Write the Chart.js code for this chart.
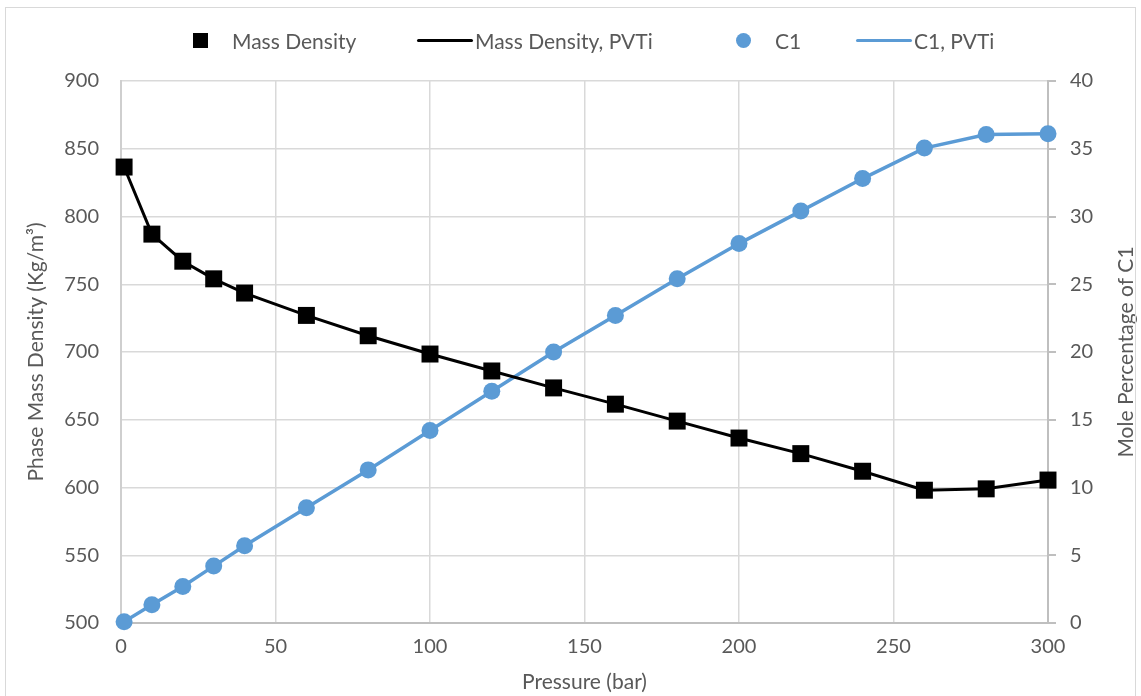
<!DOCTYPE html>
<html lang="en">
<head>
    <meta charset="UTF-8">
    <title>Phase Mass Density and C1</title>
    <script src="https://cdn.jsdelivr.net/npm/chart.js"></script>
    <style>
        body { margin: 0; background: #fff; font-family: Lato, sans-serif; }
        #wrap { position: relative; width: 1141px; height: 696px; }
        #frame { position: absolute; left: 5px; top: 7px; width: 1131px; height: 700px; border: 1px solid #d9d9d9; box-sizing: border-box; pointer-events: none; }
        .lg { position: absolute; top: 29px; height: 24px; line-height: 24px; font-size: 21px; color: #595959; white-space: nowrap; }
        .sq { position: absolute; top: 33px; width: 15px; height: 15px; background: #000; }
        .dot { position: absolute; top: 33px; width: 15px; height: 15px; border-radius: 50%; background: #5b9bd5; }
        .ln { position: absolute; top: 39px; height: 3px; border-radius: 2px; }
    </style>
</head>
<body>
    <div id="wrap">
        <canvas id="chart" width="1141" height="696"></canvas>
        <div id="frame"></div>
        <div class="sq" style="left:193px"></div>
        <div class="lg" style="left:232px">Mass Density</div>
        <div class="ln" style="left:417px;width:56px;background:#000"></div>
        <div class="lg" style="left:475px">Mass Density, PVTi</div>
        <div class="dot" style="left:736px"></div>
        <div class="lg" style="left:775px">C1</div>
        <div class="ln" style="left:856px;width:56px;background:#5b9bd5"></div>
        <div class="lg" style="left:914px">C1, PVTi</div>
    </div>
    <script>
        const pressure = [1, 10, 20, 30, 40, 60, 80, 100, 120, 140, 160, 180, 200, 220, 240, 260, 280, 300];
        const massDensity = [836.5, 787, 767, 754, 743.5, 727, 712, 698.5, 686, 673.5, 661.5, 649, 636.5, 625, 612, 598, 599, 605.5];
        const c1 = [0.1, 1.35, 2.7, 4.2, 5.7, 8.5, 11.3, 14.2, 17.1, 20.0, 22.7, 25.4, 28.0, 30.4, 32.8, 35.05, 36.05, 36.1];
        const xTicks = [0, 50, 100, 150, 200, 250, 300];

        const pts = arr => pressure.map((p, i) => ({ x: p, y: arr[i] }));
        const blue = '#5b9bd5';
        const grey = '#595959';
        const tickFont = { family: 'Lato', size: 20 };
        const titleFont = { family: 'Lato', size: 21 };

        // right axis title reads bottom-to-top like the left one
        const rightTitle = {
            id: 'rightTitle',
            afterDraw(chart) {
                const ctx = chart.ctx;
                const a = chart.chartArea;
                ctx.save();
                ctx.translate(1126, (a.top + a.bottom) / 2);
                ctx.rotate(-Math.PI / 2);
                ctx.font = '21px Lato';
                ctx.fillStyle = grey;
                ctx.textAlign = 'center';
                ctx.textBaseline = 'middle';
                ctx.fillText('Mole Percentage of C1', 0, 0);
                ctx.restore();
            }
        };

        new Chart(document.getElementById('chart'), {
            type: 'scatter',
            data: {
                datasets: [
                    { label: 'Mass Density', data: pts(massDensity), yAxisID: 'y', showLine: false, clip: false,
                      pointStyle: 'rect', pointRadius: 12, pointHoverRadius: 12, backgroundColor: '#000', borderColor: '#000', borderWidth: 0, order: 1 },
                    { label: 'Mass Density, PVTi', data: pts(massDensity), yAxisID: 'y', showLine: true,
                      pointRadius: 0, borderColor: '#000', backgroundColor: '#000', borderWidth: 3, order: 2 },
                    { label: 'C1', data: pts(c1), yAxisID: 'y1', showLine: false, clip: false,
                      pointStyle: 'circle', pointRadius: 8.5, pointHoverRadius: 8.5, backgroundColor: blue, borderColor: blue, borderWidth: 0, order: 1 },
                    { label: 'C1, PVTi', data: pts(c1), yAxisID: 'y1', showLine: true,
                      pointRadius: 0, borderColor: blue, backgroundColor: blue, borderWidth: 3.5, order: 2 }
                ]
            },
            options: {
                responsive: false,
                animation: false,
                layout: { padding: { left: 0, right: 0, top: 81, bottom: 0 } },
                plugins: {
                    legend: { display: false },
                    tooltip: { enabled: false }
                },
                scales: {
                    x: {
                        type: 'linear', min: 0, max: 300,
                        afterBuildTicks: axis => { axis.ticks = xTicks.map(v => ({ value: v })); },
                        afterFit: axis => { axis.height = 73; },
                        grid: { color: '#d9d9d9', lineWidth: 1.5, drawTicks: false },
                        border: { color: '#bfbfbf', width: 2 },
                        ticks: { color: grey, font: tickFont, padding: 12 },
                        title: { display: true, text: 'Pressure (bar)', color: grey, font: titleFont, padding: { top: 0, bottom: 1 } }
                    },
                    y: {
                        position: 'left', min: 500, max: 900,
                        afterFit: axis => { axis.width = 121; },
                        ticks: { stepSize: 50, color: grey, font: tickFont, padding: 22 },
                        grid: { color: '#d9d9d9', lineWidth: 1.5, drawTicks: false },
                        border: { color: '#cfcfcf', width: 2 },
                        title: { display: true, text: 'Phase Mass Density (Kg/m³)', color: grey, font: titleFont, padding: { top: 24 } }
                    },
                    y1: {
                        position: 'right', min: 0, max: 40,
                        afterFit: axis => { axis.width = 93; },
                        ticks: { stepSize: 5, color: grey, font: tickFont, padding: 14 },
                        grid: { drawOnChartArea: false, color: '#bfbfbf', tickLength: 8, lineWidth: 2 },
                        border: { color: '#bfbfbf', width: 2 }
                    }
                }
            },
            plugins: [rightTitle]
        });
    </script>
</body>
</html>
